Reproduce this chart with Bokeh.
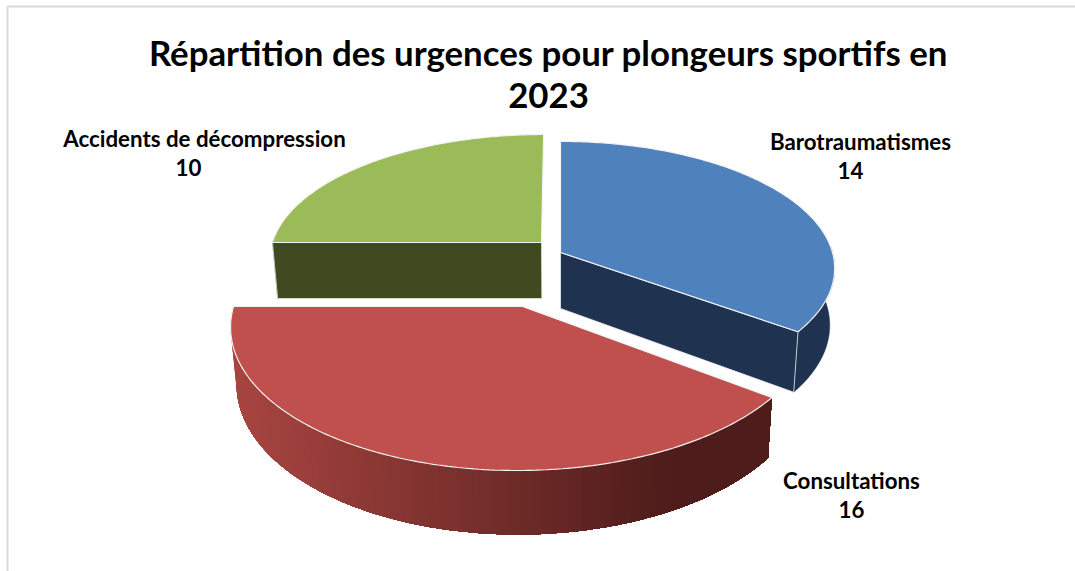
import numpy as np
from bokeh.plotting import figure
from bokeh.models import Range1d
from bokeh.core.properties import value
from bokeh.embed import file_html
from bokeh.resources import INLINE

# ---- data ----
title_lines = ["Répartition des urgences pour plongeurs sportifs en", "2023"]
categories = ["Barotraumatismes", "Consultations", "Accidents de décompression"]
values = [14, 16, 10]

# ---- styles / layout ----
top_colors = ["#4F81BD", "#C0504D", "#9BBB59"]
wall_colors = ["#1F3350", "#4E1D1B", "#3F4A20"]
apex = [(560, 252), (522, 306), (541, 242)]
radii = [(272, 125), (289, 143.5), (269, 121.5)]
label_pos = [(860, 141, 850, 170), (851, 480, 851, 509), (204, 138, 188, 167)]
K, DEPTH, SHRINK, VPX, C = 0.125, 56, 0.982, 560, 1.0
FONT = value("Lato")

W, H = 1075, 571
p = figure(width=W, height=H, output_backend="svg", toolbar_location=None,
           x_range=Range1d(0, W), y_range=Range1d(H, 0), min_border=0,
           outline_line_color=None, background_fill_color="white",
           border_fill_color="white")
p.styles = {"position": "absolute", "left": "0", "top": "0"}
p.xaxis.visible = False
p.yaxis.visible = False
p.grid.visible = False


def project(i, theta, r=1.0, h=0.0):
    """Slice i: angle theta (radians clockwise from the back), radius r, height h (0 top, 1 bottom)."""
    x0, y0 = apex[i]
    rx, ry = radii[i]
    u, v = r * np.sin(theta), r * np.cos(theta)
    den = 1 + K * v
    x = VPX + (x0 - VPX) * (1 + C * (1 / den - 1)) + rx * u / den
    y = y0 - ry * v / den
    x = VPX + (x - VPX) * (1 - (1 - SHRINK) * h)
    y = y + h * DEPTH / den
    return x, y


total = sum(values)
edges = np.cumsum([0] + values) / total * 2 * np.pi

# border of the chart area
p.segment(x0=[7, 7], y0=[6, 6], x1=[W, 7], y1=[6, H], line_color="#D9D9D9", line_width=2)

for i in [2, 0, 1]:
    a0, a1 = edges[i], edges[i + 1]
    th = np.linspace(a0, a1, 160)
    ax, ay = project(i, a0, r=0.0)

    # outer wall
    front = th[np.cos(th) < 0.05]
    if len(front) > 1:
        if i == 1:
            # shaded front slice: painted left to right from the far end, each band
            # running on to the end of the arc so that no seams show
            order = front[::-1]
            for k in range(0, len(order) - 1, 2):
                rest = order[k:]
                xt, yt = project(i, rest)
                xb, yb = project(i, rest, h=1)
                f = np.clip((xt[0] - 232) / (665 - 232), 0, 1)
                c0 = np.array([168, 69, 65])
                c1 = np.array([78, 29, 27])
                col = "#%02X%02X%02X" % tuple((c0 + (c1 - c0) * f).astype(int))
                p.patch(np.r_[xt, xb[::-1]].tolist(), np.r_[yt, yb[::-1]].tolist(),
                        fill_color=col, line_color=None)
        else:
            xt, yt = project(i, front)
            xb, yb = project(i, front, h=1)
            p.patch(np.r_[xt, xb[::-1]].tolist(), np.r_[yt, yb[::-1]].tolist(),
                    fill_color=wall_colors[i], line_color=wall_colors[i], line_width=0.5)

    # cut walls of the slices that face the viewer
    if i in (0, 2):
        a = a1 if i == 0 else a0
        xl, yl = project(i, a)
        xb, yb = project(i, a, h=1)
        axb, ayb = project(i, a, r=0.0, h=1)
        p.patch([ax, xl, xb, axb], [ay, yl, yb, ayb], fill_color=wall_colors[i],
                line_color="#E4E8DC" if i == 2 else "#E8ECF2", line_width=0.8)

    # top face
    xs, ys = project(i, th)
    p.patch(np.r_[ax, xs].tolist(), np.r_[ay, ys].tolist(), fill_color=top_colors[i],
            line_color="#F2F2F2", line_width=1.2)

# data labels
for name, val, (nx, ny, vx, vy) in zip(categories, values, label_pos):
    p.text(x=[nx, vx], y=[ny, vy], text=[name, str(val)], text_font=FONT, text_font_style="bold",
           text_font_size="22.3px", text_color="#000000", text_align="center", text_baseline="middle")

# title
p.text(x=[548, 548], y=[52, 95], text=title_lines, text_font=FONT, text_font_style="bold",
       text_font_size="34.8px", text_color="#000000", text_align="center", text_baseline="middle")

open("out.html", "w").write(file_html(p, INLINE))
